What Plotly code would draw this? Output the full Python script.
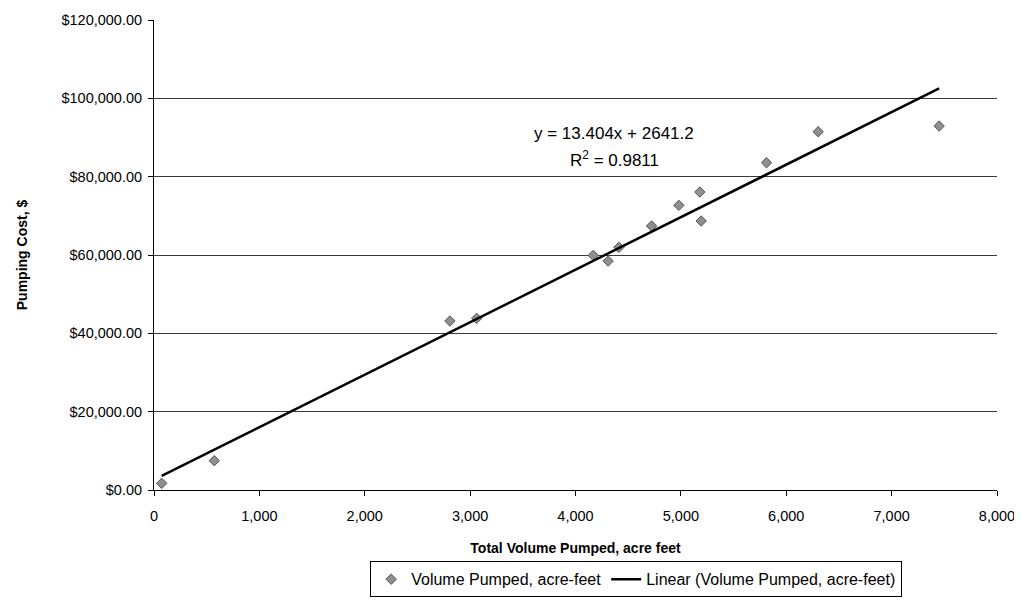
import plotly.graph_objects as go

volume = [73, 572, 2808, 3062, 4168, 4310, 4412, 4722, 4981, 5180, 5193, 5813, 6303, 7451]
cost = [1700, 7480, 43150, 43830, 59900, 58460, 61960, 67400, 72680, 76080, 68680, 83560, 91480, 92930]

slope = 13.404
intercept = 2641.2
r2 = 0.9811

trend_x = [min(volume), max(volume)]
trend_y = [slope * v + intercept for v in trend_x]

font = "Liberation Sans, Arial, sans-serif"

fig = go.Figure()
fig.add_trace(go.Scatter(
    x=volume, y=cost, mode="markers", name="Volume Pumped, acre-feet",
    marker=dict(symbol="diamond", size=8, color="#8f8f8f", line=dict(color="#555555", width=1)),
))
fig.add_trace(go.Scatter(
    x=trend_x, y=trend_y, mode="lines", name="Linear (Volume Pumped, acre-feet)",
    line=dict(color="black", width=2.5),
))

fig.add_annotation(
    x=0.546, y=0.783, xref="paper", yref="paper",
    text=f"y = {slope}x + {intercept}",
    showarrow=False, align="center", font=dict(family=font, size=17, color="black"),
)
fig.add_annotation(
    x=0.546, y=0.732, xref="paper", yref="paper",
    text=f"R<sup>2</sup> = {r2}",
    showarrow=False, align="center", font=dict(family=font, size=17, color="black"),
)

fig.update_layout(
    width=1022, height=600,
    margin=dict(l=146, r=33, t=12, b=118, autoexpand=False),
    paper_bgcolor="white", plot_bgcolor="white",
    font=dict(family=font, size=14.5, color="black"),
    showlegend=True,
    legend=dict(
        orientation="h", x=0.572, xanchor="center",
        y=-0.19, yanchor="middle",
        bordercolor="black", borderwidth=1, bgcolor="white",
        font=dict(family=font, size=16), itemwidth=30, tracegroupgap=0,
    ),
    xaxis=dict(
        range=[0, 8000], dtick=1000, tickformat=",d",
        showgrid=False, zeroline=False, automargin=False,
        showline=True, linecolor="black", linewidth=1,
        ticks="outside", ticklen=5, tickcolor="black", ticklabelstandoff=8,
        title=dict(text="<b>Total Volume Pumped, acre feet</b>", font=dict(family=font, size=14), standoff=19),
    ),
    yaxis=dict(
        range=[0, 120000], dtick=20000, tickformat="$,.2f",
        showgrid=True, gridcolor="#3a3a3a", gridwidth=1, zeroline=False, automargin=False,
        showline=True, linecolor="black", linewidth=1,
        ticks="outside", ticklen=5, tickcolor="black", ticklabelstandoff=3,
        title=dict(text="<b>Pumping Cost, $</b>", font=dict(family=font, size=14), standoff=30),
    ),
)

fig.write_html("out.html")
